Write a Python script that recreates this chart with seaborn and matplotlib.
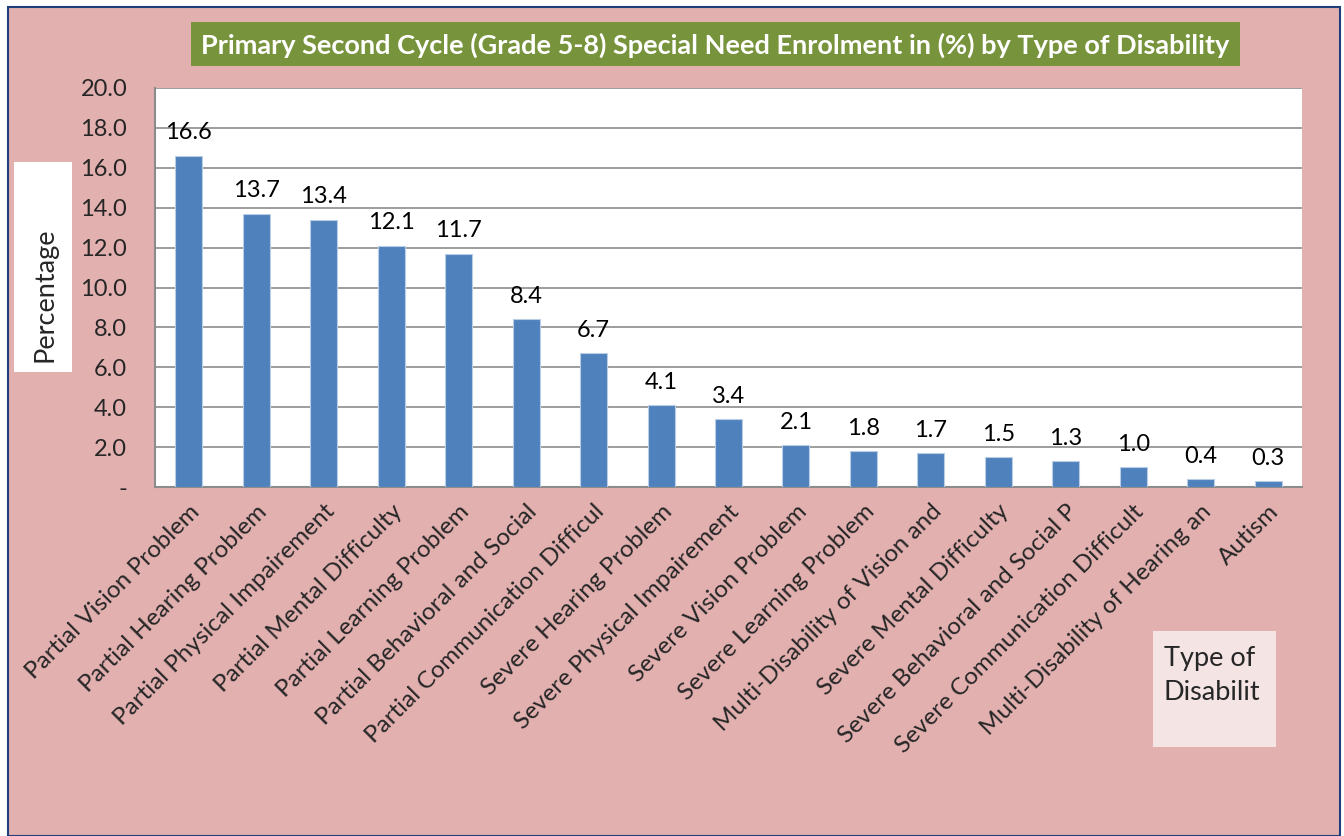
import matplotlib
matplotlib.use("Agg")
import matplotlib.pyplot as plt
import seaborn as sns
import pandas as pd
from matplotlib.patches import Rectangle

categories = ["Partial Vision Problem", "Partial Hearing Problem", "Partial Physical Impairement",
              "Partial Mental Difficulty", "Partial Learning Problem", "Partial Behavioral and Social",
              "Partial Communication Difficul", "Severe Hearing Problem", "Severe Physical Impairement",
              "Severe Vision Problem", "Severe Learning Problem", "Multi-Disability of Vision and",
              "Severe Mental Difficulty", "Severe Behavioral and Social P", "Severe Communication Difficult",
              "Multi-Disability of Hearing an", "Autism"]
values = [16.6, 13.7, 13.4, 12.1, 11.7, 8.4, 6.7, 4.1, 3.4, 2.1, 1.8, 1.7, 1.5, 1.3, 1.0, 0.4, 0.3]
yticks = [0, 2, 4, 6, 8, 10, 12, 14, 16, 18, 20]
ytick_labels = ["-"] + [f"{v:.1f}" for v in yticks[1:]]
title = "Primary Second Cycle (Grade 5-8) Special Need Enrolment in (%) by Type of Disability"

df = pd.DataFrame({"cat": categories, "val": values})

sns.set_theme(style="white")
plt.rcParams['font.family'] = ['Lato', 'DejaVu Sans']

W, H = 1344, 836
fig = plt.figure(figsize=(W / 100, H / 100), dpi=100)
fig.patch.set_facecolor("white")

# outer pink background with dark blue border
bg = Rectangle((8 / W, 0), (1340 - 8) / W, 1 - 7 / H, transform=fig.transFigure,
               facecolor="#E3B0B0", edgecolor="#1F3E7A", linewidth=1.5, zorder=-10)
fig.patches.append(bg)

ax = fig.add_axes([155 / W, 1 - 487 / H, (1302 - 155) / W, (487 - 88) / H])
ax.set_zorder(5)
ax.set_facecolor("white")
sns.barplot(data=df, x="cat", y="val", color="#4F81BD", saturation=1, width=0.4,
            edgecolor="#B9CDE5", linewidth=0.8, ax=ax, zorder=3)

ax.set_ylim(0, 20)
ax.set_xlim(-0.5, len(categories) - 0.5)
ax.set_yticks(yticks)
ax.set_yticklabels(ytick_labels, fontsize=17)
ax.yaxis.grid(True, color="#8C8C8C", linewidth=1.2, zorder=0)
ax.set_axisbelow(True)
for s in ["top", "right"]:
    ax.spines[s].set_visible(False)
for s in ["left", "bottom"]:
    ax.spines[s].set_color("#8C8C8C")
    ax.spines[s].set_linewidth(1.5)
ax.tick_params(axis="y", which="major", direction="out", length=16, width=1.2, color="#8C8C8C", pad=4)

ax.set_xticks(list(range(len(categories))))
ax.set_xticklabels(categories, rotation=45, ha="right", rotation_mode="anchor", fontsize=17.5)
ax.tick_params(axis="x", which="major", length=0, pad=10)
ax.set_xticks([i - 0.5 for i in range(len(categories) + 1)], minor=True)
ax.tick_params(axis="x", which="minor", direction="out", length=6, width=1.2, color="#8C8C8C")
ax.set_xlabel("")
ax.set_ylabel("")

for i, v in enumerate(values):
    ax.annotate(f"{v:.1f}", (i, v), xytext=(0, 9), textcoords="offset points",
                ha="center", va="bottom", fontsize=17, color="black")

# title box
fig.patches.append(Rectangle((191 / W, 1 - 66 / H), (1240 - 191) / W, 44 / H, transform=fig.transFigure,
                             facecolor="#77933C", edgecolor="none", zorder=1))
fig.text((191 + 1240) / 2 / W, 1 - 45 / H, title, ha="center", va="center",
         fontsize=19.5, fontweight="bold", color="white", zorder=2)

# y label box
fig.patches.append(Rectangle((14 / W, 1 - 372 / H), (72 - 14) / W, (372 - 162) / H, transform=fig.transFigure,
                             facecolor="white", edgecolor="none", zorder=1))
fig.text(45 / W, 1 - 295 / H, "Percentage", rotation=90, ha="center", va="center", fontsize=19.5, zorder=2)

# x label box
fig.patches.append(Rectangle((1153 / W, 1 - 747 / H), (1276 - 1153) / W, (747 - 631) / H, transform=fig.transFigure,
                             facecolor="#F5E4E4", edgecolor="none", zorder=1))
fig.text(1164 / W, 1 - 646 / H, "Type of\nDisabilit", ha="left", va="top", fontsize=19.5,
         linespacing=1.45, zorder=2)

fig.savefig("out.png", dpi=100, facecolor=fig.get_facecolor())
